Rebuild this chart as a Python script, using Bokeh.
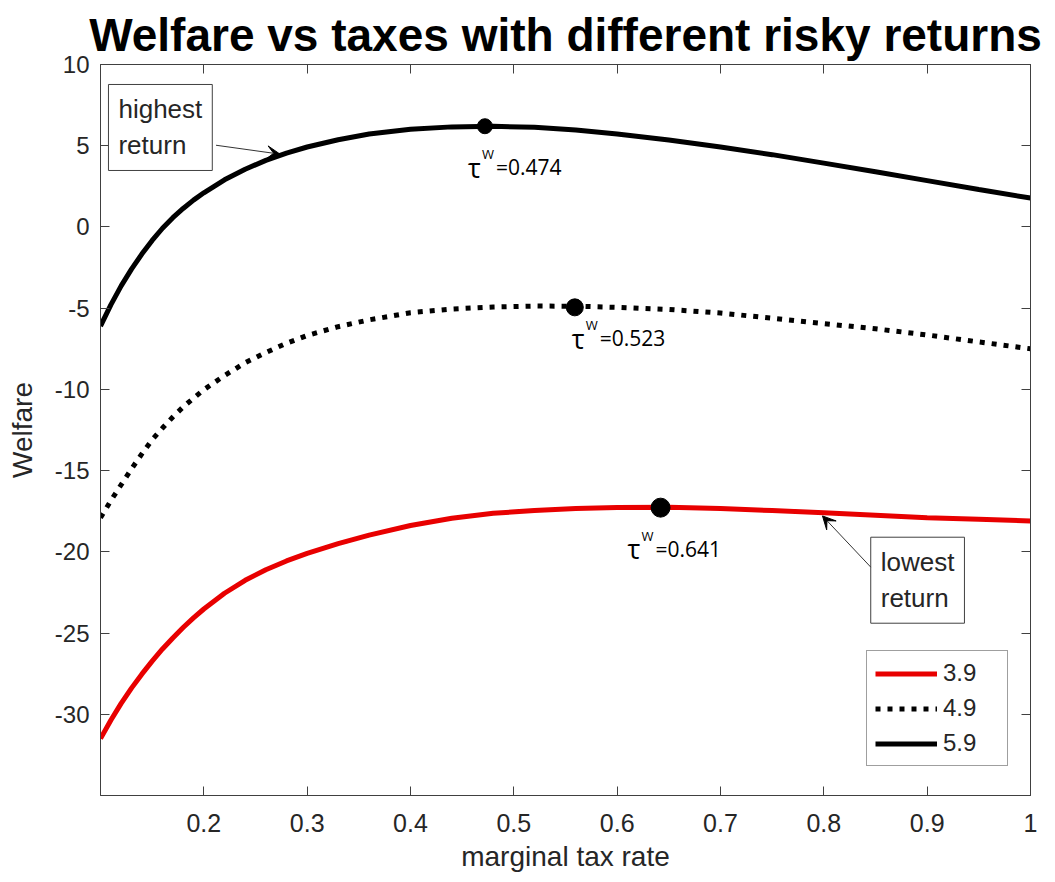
from bokeh.plotting import figure
from bokeh.models import (Range1d, FixedTicker, LinearAxis, CustomJSTickFormatter,
                          Label, Arrow, VeeHead, ColumnDataSource)
from bokeh.embed import file_html
from bokeh.resources import INLINE

# ---------------- data ----------------
tax_rate = [0.10, 0.11, 0.12, 0.13, 0.14, 0.15, 0.16, 0.17, 0.18, 0.19, 0.20,
            0.22, 0.24, 0.26, 0.28, 0.30, 0.33, 0.36, 0.40, 0.44, 0.48, 0.52,
            0.56, 0.60, 0.65, 0.70, 0.75, 0.80, 0.85, 0.90, 0.95, 1.00]
welfare_39 = [-31.5, -30.37, -29.33, -28.39, -27.53, -26.73, -25.98, -25.3, -24.66, -24.07, -23.52,
              -22.55, -21.75, -21.1, -20.56, -20.1, -19.5, -18.97, -18.38, -17.93, -17.63, -17.45,
              -17.33, -17.27, -17.25, -17.33, -17.46, -17.6, -17.75, -17.9, -18.0, -18.1]
welfare_49 = [-17.9, -16.85, -15.87, -14.9, -13.97, -13.1, -12.38, -11.7, -11.08, -10.54, -10.02,
              -9.15, -8.36, -7.73, -7.16, -6.68, -6.14, -5.72, -5.28, -5.05, -4.93, -4.87,
              -4.88, -4.95, -5.08, -5.3, -5.62, -5.95, -6.27, -6.65, -7.08, -7.5]
welfare_59 = [-6.1, -4.8, -3.63, -2.6, -1.67, -0.83, -0.08, 0.57, 1.14, 1.65, 2.1,
              2.9, 3.55, 4.1, 4.55, 4.92, 5.37, 5.72, 6.02, 6.16, 6.2, 6.13,
              5.97, 5.72, 5.35, 4.92, 4.45, 3.93, 3.4, 2.85, 2.3, 1.78]
series_names = ["3.9", "4.9", "5.9"]

opt_tax = [0.642, 0.559, 0.472]        # marker positions (same order as series)
opt_welfare = [-17.28, -4.95, 6.2]
opt_labels = ["0.641", "0.523", "0.474"]

x_ticks = [0.2, 0.3, 0.4, 0.5, 0.6, 0.7, 0.8, 0.9, 1.0]
y_ticks = [-30, -25, -20, -15, -10, -5, 0, 5, 10]

# ---------------- figure ----------------
AX = "#404040"
TXT = "#262626"
FONT = "Liberation Sans"

p = figure(width=1047, height=874, x_range=Range1d(0.1, 1.0), y_range=Range1d(-35, 10),
           output_backend="svg", toolbar_location=None,
           min_border_left=100, min_border_right=17, min_border_top=64, min_border_bottom=77,
           title="Welfare vs taxes with different risky returns",
           x_axis_label="marginal tax rate", y_axis_label="Welfare")
p.outline_line_color = AX
p.xgrid.visible = False
p.ygrid.visible = False
p.background_fill_color = "white"
p.border_fill_color = "white"

p.title.text_font = FONT
p.title.text_font_size = "46px"
p.title.text_font_style = "bold"
p.title.text_color = "black"
p.title.align = "center"
p.title.standoff = 8

xfmt = CustomJSTickFormatter(code="return String(Math.round(tick*10)/10)")
yfmt = CustomJSTickFormatter(code="return String(Math.round(tick))")


def style_axis(ax, ticks, fmt, show_labels, tick_size="24px"):
    ax.ticker = FixedTicker(ticks=ticks)
    ax.formatter = fmt
    ax.axis_line_color = AX
    ax.major_tick_line_color = AX
    ax.major_tick_in = 9
    ax.major_tick_out = 0
    ax.minor_tick_line_color = None
    if show_labels:
        ax.major_label_text_font = FONT
        ax.major_label_text_font_size = tick_size
        ax.major_label_text_color = TXT
        ax.axis_label_text_font = FONT
        ax.axis_label_text_font_size = "28px"
        ax.axis_label_text_font_style = "normal"
        ax.axis_label_text_color = TXT
    else:
        ax.major_label_text_font_size = "0px"
        ax.major_label_standoff = 0


style_axis(p.xaxis[0], x_ticks, xfmt, True, "25px")
style_axis(p.yaxis[0], y_ticks, yfmt, True, "24px")
p.xaxis[0].major_label_standoff = 18
p.xaxis[0].axis_label_standoff = 6
p.yaxis[0].major_label_standoff = 11
p.yaxis[0].axis_label_standoff = 14

top_ax = LinearAxis()
style_axis(top_ax, x_ticks, xfmt, False)
p.add_layout(top_ax, "above")
right_ax = LinearAxis()
style_axis(right_ax, y_ticks, yfmt, False)
p.add_layout(right_ax, "right")

# ---------------- curves ----------------
src = ColumnDataSource(dict(x=tax_rate, w39=welfare_39, w49=welfare_49, w59=welfare_59))
p.line("x", "w39", source=src, line_color="#e80000", line_width=5, legend_label=series_names[0])
p.line("x", "w49", source=src, line_color="black", line_width=5, line_dash="5 7",
       legend_label=series_names[1])
p.line("x", "w59", source=src, line_color="black", line_width=5, legend_label=series_names[2])

msrc = ColumnDataSource(dict(x=opt_tax, y=opt_welfare, s=[19, 17, 15]))
p.scatter("x", "y", source=msrc, size="s", marker="circle", fill_color="black", line_color="black")

# tau^W labels (pixel offsets from each marker)
offsets = [(-33, -41), (-3, -31), (-17, -41)]
for xv, yv, lab, (dx, dy) in zip(opt_tax, opt_welfare, opt_labels, offsets):
    p.add_layout(Label(x=xv, y=yv, x_offset=dx, y_offset=dy, text="τ",
                       text_font="Open Sans", text_font_size="27px", text_color="black",
                       text_baseline="alphabetic"))
    p.add_layout(Label(x=xv, y=yv, x_offset=dx + 14, y_offset=dy + 13, text="W",
                       text_font="Open Sans", text_font_size="13px", text_color="black",
                       text_baseline="alphabetic"))
    p.add_layout(Label(x=xv, y=yv, x_offset=dx + 28, y_offset=dy, text="=" + lab,
                       text_font="Open Sans", text_font_size="21px", text_color="black",
                       text_baseline="alphabetic"))

# text boxes with arrows
for (tx, ty, txt) in [(0.1077, 8.77, "highest\nreturn"), (0.8454, -19.1, "lowest\nreturn")]:
    p.add_layout(Label(x=tx, y=ty, text=txt, anchor="top_left",
                       text_font=FONT, text_font_size="26px", text_color=TXT,
                       text_line_height=1.2, padding=10,
                       border_line_color=AX, border_line_width=1,
                       background_fill_color="white", background_fill_alpha=1.0))

for (xs, ys, xe, ye) in [(0.2118, 5.03, 0.2738, 4.48), (0.8454, -20.94, 0.7987, -17.79)]:
    p.add_layout(Arrow(end=VeeHead(size=13, fill_color="black", line_color="black"),
                       x_start=xs, y_start=ys, x_end=xe, y_end=ye,
                       line_color="#333333", line_width=1))

# ---------------- legend ----------------
lg = p.legend[0]
lg.location = (766, 29)
lg.margin = 0
lg.padding = 8
lg.spacing = 7
lg.glyph_width = 62
lg.glyph_height = 25
lg.label_height = 25
lg.label_width = 56
lg.label_standoff = 6
lg.label_text_font = FONT
lg.label_text_font_size = "24px"
lg.label_text_color = TXT
lg.border_line_color = AX
lg.border_line_width = 1
lg.background_fill_alpha = 1.0

open("out.html", "w").write(file_html(p, INLINE))
